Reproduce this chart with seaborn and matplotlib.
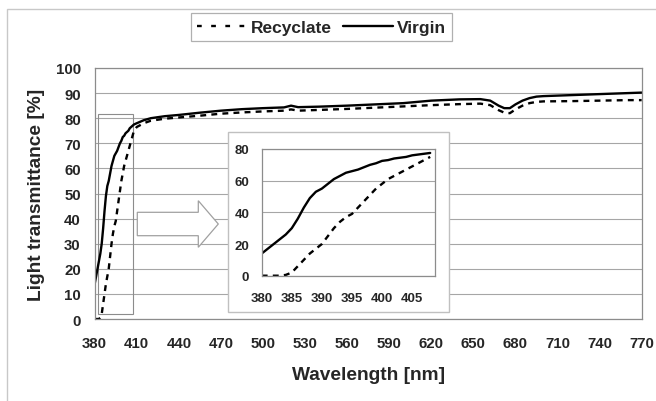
import matplotlib
matplotlib.use("Agg")
import matplotlib.pyplot as plt
import matplotlib.patches as mpatches
from matplotlib.lines import Line2D
import seaborn as sns
import pandas as pd

# Light transmittance data (wavelength in nm, transmittance in %)
wavelength = [380, 381, 382, 383, 384, 385, 386, 387, 388, 389, 390, 391, 392, 393, 394,
              395, 396, 397, 398, 399, 400, 401, 402, 403, 404, 405, 406, 407, 408,
              410, 415, 420, 430, 440, 455, 470, 485, 500, 515, 520, 525, 540, 560,
              580, 600, 620, 640, 655, 662, 668, 672, 676, 680, 685, 690, 695, 700,
              720, 740, 760, 770]
virgin = [14, 17, 20, 23, 26, 30, 36, 43, 49, 53, 55, 58, 61, 63, 65,
          66, 67, 68.5, 70, 71, 72.5, 73, 74, 74.5, 75, 76, 76.5, 77, 77.5,
          78, 79.2, 80, 80.8, 81.3, 82.2, 83, 83.6, 84, 84.3, 85, 84.4, 84.6, 85,
          85.5, 86, 87, 87.5, 87.6, 87, 85, 84, 84, 85.5, 87, 88, 88.6, 88.8,
          89.2, 89.6, 90, 90.2]
recyclate = [0, 0, 0, 0, 0.5, 2, 6, 10, 14, 17, 20, 25, 30, 34, 37,
             39, 43, 47, 51, 55, 58, 61, 63, 65, 67, 69, 71, 73, 75,
             76.5, 78, 79, 79.8, 80.3, 81, 81.8, 82.3, 82.7, 83, 83.5, 83, 83.3, 83.7,
             84.2, 84.7, 85.2, 85.6, 85.8, 85.2, 83.2, 82.2, 82, 83.5, 85, 86, 86.5, 86.7,
             86.8, 87, 87.2, 87.2]
materials = ["Recyclate", "Virgin"]

main_xticks = list(range(380, 771, 30))
main_yticks = list(range(0, 101, 10))
inset_xticks = list(range(380, 406, 5))
inset_yticks = list(range(0, 81, 20))
zoom_box = (382, 2, 407, 81.6)  # x0, y0, x1, y1 of the marked region

n = len(wavelength)
df = pd.DataFrame({
    "Wavelength": wavelength * 2,
    "Transmittance": recyclate + virgin,
    "Material": ["Recyclate"] * n + ["Virgin"] * n,
})
df_inset = df[df["Wavelength"] <= 409]

sns.set_style("white")
plt.rcParams['font.family'] = ['Liberation Sans', 'DejaVu Sans']
plt.rcParams['font.weight'] = 'bold'

W, H = 656, 402
def fx(x):
    return x / W
def fy(y):
    return 1 - y / H

GRID = '#a6a6a6'
SPINE = '#8c8c8c'
palette = {"Recyclate": "black", "Virgin": "black"}
dashes = {"Recyclate": (2.5, 2.2), "Virgin": ""}

fig = plt.figure(figsize=(W / 100, H / 100), dpi=100)

# outer chart border
fig.patches.append(mpatches.Rectangle((fx(7.3), -0.2), 1.2, fy(10) + 0.2, transform=fig.transFigure,
                                      fill=False, edgecolor='#c8c8c8', lw=1.0, zorder=0))

ax = fig.add_axes([fx(94.7), fy(320), fx(641.7 - 94.7), (320 - 69) / H])
sns.lineplot(data=df, x="Wavelength", y="Transmittance", hue="Material", style="Material",
             palette=palette, dashes=dashes, linewidth=1.7, estimator=None, sort=False,
             legend=False, ax=ax)
ax.set_xlim(380, 770)
ax.set_ylim(0, 100)
ax.set_xticks(main_xticks)
ax.set_yticks(main_yticks)
ax.yaxis.grid(True, color=GRID, lw=0.8)
ax.xaxis.grid(False)
for s in ax.spines.values():
    s.set_color(SPINE)
    s.set_linewidth(0.9)
ax.tick_params(axis='x', direction='out', length=4, width=0.9, color=SPINE, pad=8, labelsize=10.8)
ax.tick_params(axis='y', direction='out', length=4, width=0.9, color=SPINE, pad=6, labelsize=10.8)
ax.set_xlabel("Wavelength [nm]", fontsize=13.8, fontweight='bold', labelpad=12)
ax.set_ylabel("Light transmittance [%]", fontsize=13.8, fontweight='bold', labelpad=8)
ax.add_patch(mpatches.Rectangle((zoom_box[0], zoom_box[1]), zoom_box[2] - zoom_box[0],
                                zoom_box[3] - zoom_box[1], fill=False, edgecolor=SPINE,
                                lw=0.8, zorder=1))

# inset background box and arrow
fig.patches.append(mpatches.Rectangle((fx(228), fy(313)), fx(449.3 - 228), (313 - 133) / H,
                                      transform=fig.transFigure, facecolor='white',
                                      edgecolor='#c0c0c0', lw=1.0, zorder=1))
arrow_px = [(137.3, 213.3), (198.3, 213.3), (198.3, 201.7), (218.3, 225),
            (198.3, 248.3), (198.3, 236.7), (137.3, 236.7)]
fig.patches.append(mpatches.Polygon([(fx(x), fy(y)) for x, y in arrow_px], closed=True,
                                    transform=fig.transFigure, facecolor='white',
                                    edgecolor='#a0a0a0', lw=0.9, zorder=1))

axi = fig.add_axes([fx(261.7), fy(276.7), fx(435 - 261.7), (276.7 - 150) / H])
axi.set_zorder(2)
sns.lineplot(data=df_inset, x="Wavelength", y="Transmittance", hue="Material", style="Material",
             palette=palette, dashes=dashes, linewidth=1.7, estimator=None, sort=False,
             legend=False, ax=axi)
axi.set_xlim(380, 408.8)
axi.set_ylim(0, 80)
axi.set_xticks(inset_xticks)
axi.set_yticks(inset_yticks)
axi.yaxis.grid(True, color=GRID, lw=0.8)
axi.xaxis.grid(False)
for s in axi.spines.values():
    s.set_color(SPINE)
    s.set_linewidth(0.9)
axi.tick_params(axis='x', direction='out', length=3, width=0.9, color=SPINE, pad=9, labelsize=9.5)
axi.tick_params(axis='y', direction='out', length=3, width=0.9, color=SPINE, pad=6, labelsize=9.5)
axi.set_xlabel("")
axi.set_ylabel("")

# legend
handles = [Line2D([], [], color='black', lw=1.7, dashes=(2.0, 4.0)),
           Line2D([], [], color='black', lw=1.7)]
leg = fig.legend(handles, materials, loc='center', bbox_to_anchor=(fx(321.5), fy(28)), ncol=2,
                 frameon=True, fancybox=False, edgecolor='#b0b0b0', framealpha=1,
                 prop={'weight': 'bold', 'size': 12.5}, handlelength=2.9, handletextpad=0.2,
                 columnspacing=0.6, borderpad=0.35)
leg.get_frame().set_linewidth(0.9)

fig.savefig("out.png", dpi=100)
